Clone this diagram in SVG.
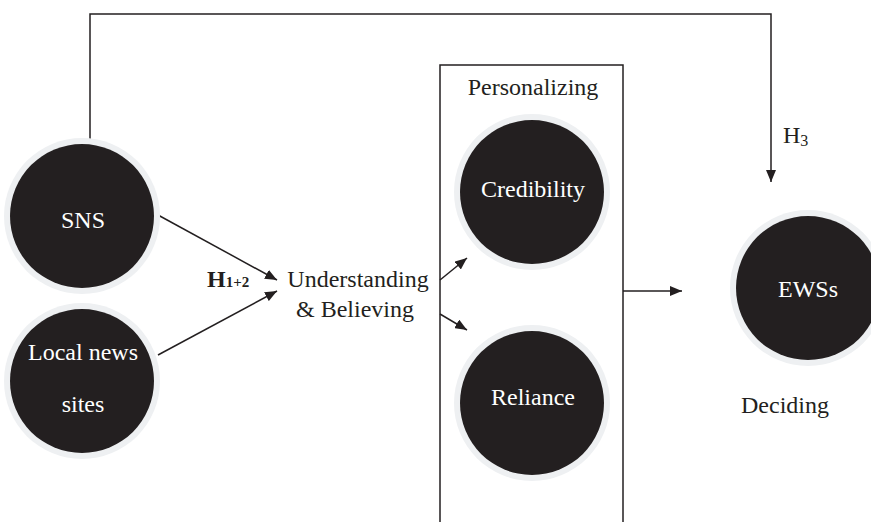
<svg xmlns="http://www.w3.org/2000/svg" width="871" height="522" viewBox="0 0 871 522">
<style>
.ring{fill:#eef0f2}
.node{fill:#231f20}
.lbl{font-family:"Liberation Serif","Times New Roman",serif;font-size:24px;fill:#ffffff;text-anchor:middle}
.txt{font-family:"Liberation Serif","Times New Roman",serif;font-size:24px;fill:#231f20}
.ln{stroke:#231f20;stroke-width:1.5;fill:none}
</style>
<defs>
<marker id="ah" markerUnits="userSpaceOnUse" markerWidth="12" markerHeight="10" refX="12" refY="5" orient="auto">
<path d="M0,0 L12,5 L0,10 z" fill="#231f20"/>
</marker>
</defs>
<rect width="871" height="522" fill="#ffffff"/>
<g id="personalizing-box">
<rect x="440" y="65" width="183" height="470" class="ln"/>
<text x="533" y="95" class="txt" text-anchor="middle">Personalizing</text>
</g>
<g id="connectors">
<polyline points="90,142 90,14 771,14 771,182" class="ln" marker-end="url(#ah)"/>
<line x1="158" y1="215" x2="277" y2="280" class="ln" marker-end="url(#ah)"/>
<line x1="158" y1="355" x2="277" y2="291" class="ln" marker-end="url(#ah)"/>
<line x1="440" y1="280" x2="467" y2="258" class="ln" marker-end="url(#ah)"/>
<line x1="440" y1="314" x2="467" y2="330" class="ln" marker-end="url(#ah)"/>
<line x1="623" y1="291" x2="682" y2="291" class="ln" marker-end="url(#ah)"/>
</g>
<g id="sns">
<circle cx="82" cy="216" r="78" class="ring"/>
<circle cx="82" cy="216" r="72" class="node"/>
<text x="83" y="228" class="lbl">SNS</text>
</g>
<g id="local-news">
<circle cx="82" cy="381" r="78" class="ring"/>
<circle cx="82" cy="381" r="72" class="node"/>
<text x="83" y="360" class="lbl">Local news</text>
<text x="83" y="412" class="lbl">sites</text>
</g>
<g id="h12">
<text x="207" y="287" class="txt" font-weight="bold" font-size="23px">H<tspan font-size="15px">1+2</tspan></text>
</g>
<g id="understanding">
<text x="358" y="287" class="txt" text-anchor="middle">Understanding</text>
<text x="355" y="317" class="txt" text-anchor="middle">&amp; Believing</text>
</g>
<g id="credibility">
<circle cx="532" cy="192" r="78" class="ring"/>
<circle cx="532" cy="192" r="72" class="node"/>
<text x="533" y="197" class="lbl">Credibility</text>
</g>
<g id="reliance">
<circle cx="532" cy="403" r="78" class="ring"/>
<circle cx="532" cy="403" r="72" class="node"/>
<text x="533" y="405" class="lbl">Reliance</text>
</g>
<g id="h3">
<text x="783" y="143" class="txt" font-size="22px">H<tspan font-size="16px" dy="3">3</tspan></text>
</g>
<g id="ews">
<circle cx="808" cy="288" r="78" class="ring"/>
<circle cx="808" cy="288" r="72" class="node"/>
<text x="808" y="297" class="lbl">EWSs</text>
<text x="785" y="413" class="txt" text-anchor="middle">Deciding</text>
</g>
</svg>
